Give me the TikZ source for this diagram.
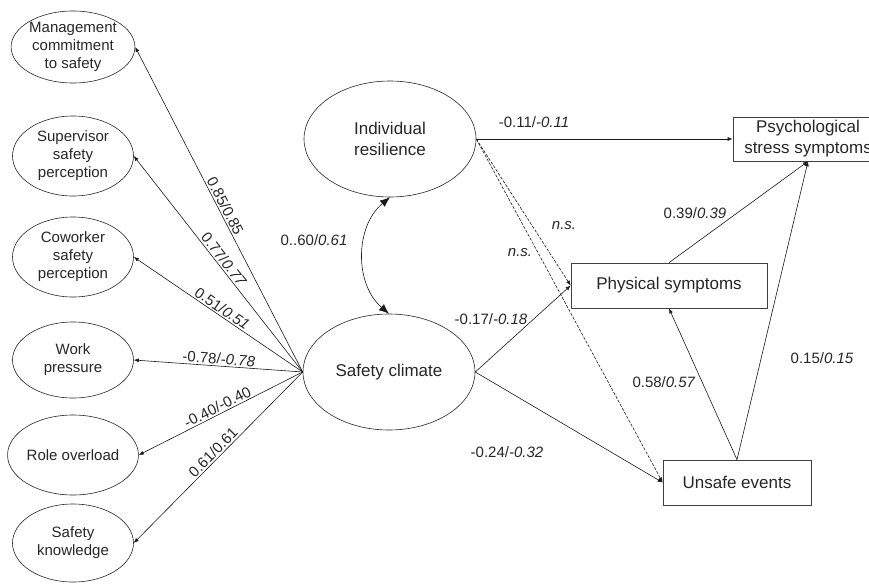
\documentclass[tikz,border=0pt]{standalone}
\usepackage{fontspec}
\setmainfont{Liberation Sans}
\usetikzlibrary{shapes.geometric,arrows.meta}
\begin{document}
\begin{tikzpicture}[x=1pt,y=-1pt,
  every node/.style={text=black!85},
  lat/.style={ellipse,draw=black!85,line width=0.6pt,inner sep=0pt,align=center,
    font=\fontsize{15}{18}\selectfont,minimum width=121pt,minimum height=80pt},
  big/.style={ellipse,draw=black!85,line width=0.6pt,inner sep=0pt,align=center,
    font=\fontsize{17}{21}\selectfont,minimum width=172pt,minimum height=116pt},
  obs/.style={rectangle,draw=black!75,line width=0.7pt,inner sep=0pt,align=center,
    font=\fontsize{17}{21}\selectfont},
  arr/.style={draw=black!90,line width=0.6pt,-{Latex[length=5pt,width=4pt]}},
  dsh/.style={arr,dash pattern=on 3pt off 1.5pt},
  lab/.style={font=\fontsize{15}{18}\selectfont,inner sep=1.5pt},
]
\useasboundingbox (0,0) rectangle (869,583);
\clip (0,0) rectangle (869,583);

% latent indicators
\node[lat,minimum height=72pt] (mg) at (73,47) {Management\\commitment\\to safety};
\node[lat] (sv) at (73,156) {Supervisor\\safety\\perception};
\node[lat] (cw) at (73,257) {Coworker\\safety\\perception};
\node[lat,minimum height=76pt] (wp) at (73,360) {Work\\pressure};
\node[lat] (ro) at (73,455) {Role overload};
\node[lat,minimum height=78pt] (sk) at (73,543) {Safety\\knowledge};

% main latent variables
\node[big] (ir) at (390,139) {Individual\\resilience};
\node[big] (sc) at (389,372) {Safety climate};

% observed outcomes
\node[obs,minimum width=150pt,minimum height=44pt] (ps) at (808,139) {Psychological\\stress symptoms};
\node[obs,minimum width=196pt,minimum height=45pt] (ph) at (669,285.5) {Physical symptoms};
\node[obs,minimum width=148pt,minimum height=45pt] (ue) at (737,482.5) {Unsafe events};

% loadings
\draw[arr] (sc.west) -- (mg.east) node[lab,sloped,above,pos=0.5] {0.85/0.85};
\draw[arr] (sc.west) -- (sv.east) node[lab,sloped,above,pos=0.5] {0.77/\textit{0.77}};
\draw[arr] (sc.west) -- (cw.east) node[lab,sloped,above,pos=0.5] {0.51/\textit{0.51}};
\draw[arr] (sc.west) -- (wp.east) node[lab,sloped,above,pos=0.5] {-0.78/\textit{-0.78}};
\draw[arr] (sc.west) -- (ro.east) node[lab,sloped,above,pos=0.5] {-0.40/-0.40};
\draw[arr] (sc.west) -- (sk.east) node[lab,sloped,above,pos=0.5] {0.61/0.61};

% correlation
\draw[draw=black!90,line width=0.6pt,{Latex[length=10pt,width=8pt]}-{Latex[length=10pt,width=8pt]}]
  (ir.south) to[bend right=50] (sc.north);

% structural paths
\draw[arr] (ir.east) -- (ps.west);
\draw[dsh] (ir.east) -- (ph.west);
\draw[dsh] (ir.east) -- (ue.west);
\draw[arr] (sc.east) -- (ph.west);
\draw[arr] (sc.east) -- (ue.west);
\draw[arr] (ph.north) -- (ps.south);
\draw[arr] (ue.north) -- (ph.south);
\draw[arr] (ue.north) -- (ps.south);

% path labels
\node[lab] (l1) at (534,122) {-0.11/\textit{-0.11}};
\node[lab] (l2) at (695,213) {0.39/\textit{0.39}};
\node[lab] (l3) at (564,226) {\textit{n.s.}};
\node[lab] (l4) at (520,253) {\textit{n.s.}};
\node[lab] (l5) at (491,319) {-0.17/\textit{-0.18}};
\node[lab] (l6) at (664,382) {0.58/\textit{0.57}};
\node[lab] (l7) at (822,358) {0.15/\textit{0.15}};
\node[lab] (l8) at (507,452) {-0.24/\textit{-0.32}};
\node[lab] (l9) at (314,240) {0..60/\textit{0.61}};
\end{tikzpicture}
\end{document}
